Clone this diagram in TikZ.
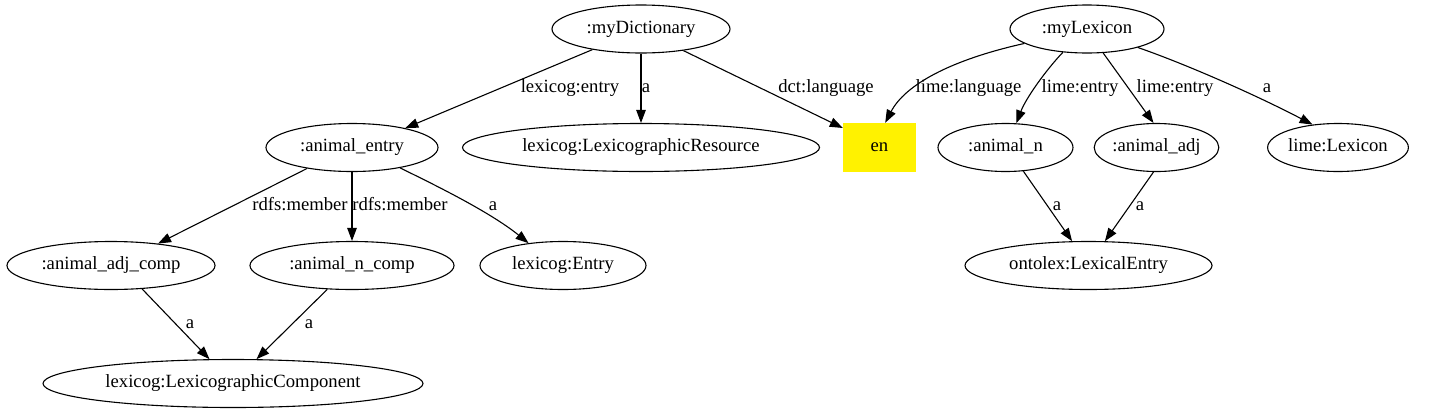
\documentclass[tikz,border=0pt]{standalone}
\usepackage{fontspec}
\setmainfont{Liberation Serif}
\usetikzlibrary{arrows.meta,shapes.geometric}
\newcommand{\gvfont}{\fontsize{18.67pt}{22pt}\selectfont}
\tikzset{
  ent/.style={ellipse, draw, line width=1.1pt, inner xsep=0pt, inner ysep=2pt,
    minimum height=48pt, minimum width=#1, font=\gvfont, text height=13pt, text depth=4.5pt},
  lit/.style={rectangle, fill=yellow, minimum width=73pt, minimum height=49pt,
    inner sep=0pt, font=\gvfont, text height=13pt, text depth=4.5pt},
  conn/.style={line width=1.1pt, -{Triangle[length=13pt,width=9.5pt]}},
  lbl/.style={inner sep=0pt, font=\gvfont, text height=13pt, text depth=4.5pt},
}
\begin{document}
\begin{tikzpicture}[x=1pt,y=-1pt]
\useasboundingbox (0,0) rectangle (1443,413);
% nodes
\node[ent=178pt] (dict) at (641,29) {:myDictionary};
\node[ent=154pt] (lex) at (1087,29) {:myLexicon};
\node[ent=172pt] (ae) at (352,147.5) {:animal\_entry};
\node[ent=357pt] (res) at (641,147.5) {lexicog:LexicographicResource};
\node[lit] (en) at (879.5,147.5) {en};
\node[ent=135pt] (an) at (1005.5,147.5) {:animal\_n};
\node[ent=123pt] (aa) at (1156.5,147.5) {:animal\_adj};
\node[ent=136pt] (llex) at (1338,147.5) {lime:Lexicon};
\node[ent=208pt] (ac) at (111,265.5) {:animal\_adj\_comp};
\node[ent=204pt] (nc) at (352,265.5) {:animal\_n\_comp};
\node[ent=166pt] (le) at (563,265.5) {lexicog:Entry};
\node[ent=247pt] (ole) at (1088.5,265.5) {ontolex:LexicalEntry};
\node[ent=380pt] (lc) at (233,383.5) {lexicog:LexicographicComponent};
% edges
\draw[conn] (dict.203) -- (ae.20);
\draw[conn] (dict.south) -- (res.north);
\draw[conn] (dict.-27) -- (en.152);
\draw[conn] (lex.193) .. controls (950,60) and (905,85) .. (en.77);
\draw[conn] (lex.224) .. controls (1046,70) and (1026,98) .. (an.66);
\draw[conn] (lex.-56) -- (aa.97);
\draw[conn] (lex.-20) .. controls (1180,62) and (1250,92) .. (llex.138);
\draw[conn] (ae.205) -- (ac.25);
\draw[conn] (ae.south) -- (nc.north);
\draw[conn] (ae.-23) .. controls (435,185) and (490,212) .. (le.147);
\draw[conn] (ac.-37) -- (lc.134);
\draw[conn] (nc.224) -- (lc.46);
\draw[conn] (an.-53) -- (ole.124);
\draw[conn] (aa.263) -- (ole.56);
% edge labels
\node[lbl] (l1) at (570,88) {lexicog:entry};
\node[lbl] (l2) at (646,88) {a};
\node[lbl] (l3) at (826,88) {dct:language};
\node[lbl] (l4) at (968.5,88) {lime:language};
\node[lbl] (l5) at (1080,88) {lime:entry};
\node[lbl] (l6) at (1175,88) {lime:entry};
\node[lbl] (l7) at (1267,88) {a};
\node[lbl] (l8) at (300,206) {rdfs:member};
\node[lbl] (l9) at (400,206) {rdfs:member};
\node[lbl] (l10) at (493,206) {a};
\node[lbl] (l11) at (1057,206) {a};
\node[lbl] (l12) at (1140,206) {a};
\node[lbl] (l13) at (190,324) {a};
\node[lbl] (l14) at (309,324) {a};
\end{tikzpicture}
\end{document}
